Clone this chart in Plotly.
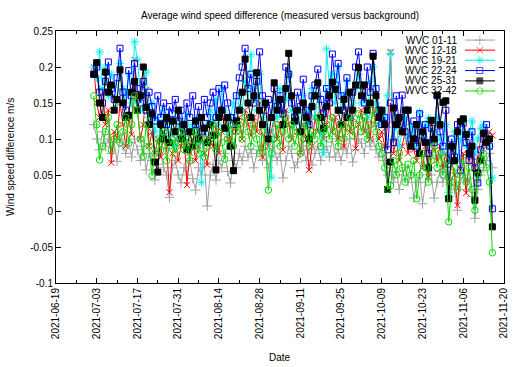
import pandas as pd
import plotly.graph_objects as go

# ---------------- data ----------------
start_date = "2021-07-02"

wvc_01_11 = [
    0.12, 0.1, 0.085, 0.11, 0.09, 0.1, 0.08, 0.095, 0.069, 0.1,
    0.09, 0.08, 0.095, 0.075, 0.1, 0.085, 0.07, 0.09, 0.057, 0.08,
    0.07, 0.043, 0.065, 0.08, 0.06, 0.05, 0.019, 0.06, 0.07, 0.05,
    0.039, 0.06, 0.05, 0.07, 0.045, 0.029, 0.06, 0.05, 0.065, 0.007,
    0.05, 0.065, 0.043, 0.07, 0.06, 0.08, 0.055, 0.039, 0.07, 0.06,
    0.08, 0.07, 0.09, 0.075, 0.085, 0.06, 0.08, 0.09, 0.07, 0.085,
    0.06, 0.075, 0.09, 0.07, 0.08, 0.046, 0.07, 0.09, 0.08, 0.06,
    0.068, 0.08, 0.09, 0.07, 0.085, 0.064, 0.08, 0.09, 0.07, 0.085,
    0.09, 0.075, 0.1, 0.075, 0.085, 0.07, 0.09, 0.08, 0.1, 0.068,
    0.085, 0.1, 0.094, 0.08, 0.11, 0.09, 0.1, 0.085, 0.075, 0.09,
    0.07, 0.05, 0.06, 0.04, 0.055, 0.03, 0.05, 0.06, 0.04, 0.05,
    0.018, 0.04, 0.05, 0.01, 0.04, 0.06, 0.05, 0.018, 0.04, 0.055,
    0.04, 0.05, 0.02, 0.04, 0.03, 0.001, 0.04, 0.05, 0.03, 0.045,
    0.02, -0.01, 0.03, 0.05, 0.06, 0.07, 0.08, 0.06,
]

wvc_12_18 = [
    0.2, 0.15, 0.13, 0.17, 0.12, 0.14, 0.067, 0.11, 0.101, 0.15,
    0.12, 0.09, 0.13, 0.106, 0.21, 0.14, 0.1, 0.12, 0.168, 0.09,
    0.11, 0.08, 0.1, 0.075, 0.11, 0.09, 0.026, 0.08, 0.1, 0.07,
    0.09, 0.11, 0.036, 0.081, 0.1, 0.07, 0.09, 0.11, 0.08, 0.064,
    0.1, 0.09, 0.12, 0.08, 0.11, 0.13, 0.1, 0.09, 0.12, 0.11,
    0.13, 0.1, 0.14, 0.12, 0.105, 0.13, 0.11, 0.15, 0.075, 0.12,
    0.09, 0.11, 0.13, 0.1, 0.12, 0.085, 0.14, 0.12, 0.1, 0.13,
    0.11, 0.081, 0.12, 0.1, 0.057, 0.09, 0.13, 0.11, 0.14, 0.1,
    0.12, 0.15, 0.11, 0.13, 0.1, 0.12, 0.09, 0.14, 0.11, 0.13,
    0.087, 0.12, 0.14, 0.11, 0.13, 0.1, 0.15, 0.12, 0.1, 0.11,
    0.09, 0.12, 0.221, 0.08, 0.1, 0.07, 0.09, 0.11, 0.08, 0.1,
    0.085, 0.07, 0.1, 0.06, 0.09, 0.047, 0.08, 0.095, 0.07, 0.09,
    0.06, 0.08, 0.04, 0.07, 0.05, 0.008, 0.06, 0.08, 0.025, 0.07,
    0.09, 0.06, 0.075, 0.1, 0.115, 0.09, 0.11, 0.105,
]

wvc_19_21 = [
    0.2, 0.185, 0.221, 0.17, 0.2, 0.16, 0.19, 0.175, 0.15, 0.205,
    0.17, 0.16, 0.19, 0.15, 0.235, 0.21, 0.16, 0.14, 0.193, 0.13,
    0.15, 0.11, 0.13, 0.1, 0.14, 0.12, 0.105, 0.13, 0.09, 0.115,
    0.125, 0.1, 0.135, 0.11, 0.12, 0.095, 0.13, 0.04, 0.11, 0.12,
    0.14, 0.125, 0.155, 0.12, 0.171, 0.14, 0.11, 0.13, 0.15, 0.12,
    0.16, 0.14, 0.18, 0.15, 0.217, 0.17, 0.14, 0.19, 0.13, 0.12,
    0.11, 0.047, 0.15, 0.13, 0.17, 0.12, 0.155, 0.19, 0.14, 0.12,
    0.13, 0.11, 0.16, 0.12, 0.14, 0.17, 0.13, 0.16, 0.11, 0.081,
    0.225, 0.17, 0.19, 0.15, 0.2, 0.14, 0.16, 0.18, 0.13, 0.15,
    0.17, 0.19, 0.15, 0.16, 0.13, 0.18, 0.2, 0.15, 0.12, 0.14,
    0.13, 0.16, 0.219, 0.1, 0.12, 0.09, 0.11, 0.13, 0.1, 0.12,
    0.11, 0.09, 0.137, 0.1, 0.12, 0.129, 0.095, 0.11, 0.13, 0.1,
    0.08, 0.12, 0.026, 0.09, 0.11, 0.07, 0.1, 0.125, 0.09, 0.11,
    0.125, 0.08, 0.1, 0.115, 0.12, 0.105, 0.09, 0.046,
]

wvc_22_24 = [
    0.19, 0.2, 0.165, 0.15, 0.18, 0.207, 0.17, 0.155, 0.185, 0.226,
    0.165, 0.14, 0.195, 0.16, 0.205, 0.17, 0.15, 0.18, 0.14, 0.165,
    0.145, 0.125, 0.16, 0.13, 0.15, 0.12, 0.145, 0.135, 0.155, 0.125,
    0.14, 0.115, 0.15, 0.13, 0.16, 0.12, 0.145, 0.11, 0.155, 0.13,
    0.15, 0.165, 0.13, 0.17, 0.14, 0.175, 0.15, 0.13, 0.12, 0.16,
    0.185, 0.2, 0.226, 0.17, 0.19, 0.15, 0.18, 0.221, 0.16, 0.14,
    0.155, 0.13, 0.17, 0.145, 0.16, 0.135, 0.2, 0.19, 0.15, 0.13,
    0.165, 0.145, 0.183, 0.14, 0.12, 0.16, 0.175, 0.197, 0.155, 0.135,
    0.17, 0.15, 0.218, 0.175, 0.205, 0.16, 0.14, 0.185, 0.13, 0.165,
    0.2, 0.221, 0.175, 0.15, 0.2, 0.165, 0.219, 0.17, 0.14, 0.12,
    0.13, 0.085, 0.15, 0.095, 0.16, 0.12, 0.161, 0.11, 0.14, 0.1,
    0.125, 0.09, 0.135, 0.105, 0.12, 0.08, 0.115, 0.095, 0.16, 0.11,
    0.09, 0.14, 0.065, 0.1, 0.075, 0.12, 0.056, 0.122, 0.095, 0.07,
    0.11, 0.06, 0.039, 0.085, 0.1, 0.12, 0.09, 0.003,
]

wvc_25_31 = [
    0.19, 0.206, 0.15, 0.13, 0.193, 0.165, 0.175, 0.14, 0.155, 0.196,
    0.15, 0.13, 0.133, 0.165, 0.18, 0.14, 0.16, 0.2, 0.144, 0.12,
    0.135, 0.068, 0.054, 0.12, 0.1, 0.13, 0.095, 0.125, 0.11, 0.14,
    0.1, 0.12, 0.085, 0.11, 0.09, 0.125, 0.1, 0.13, 0.115, 0.095,
    0.12, 0.105, 0.057, 0.13, 0.14, 0.115, 0.13, 0.09, 0.056, 0.125,
    0.14, 0.165, 0.211, 0.15, 0.13, 0.16, 0.192, 0.14, 0.12, 0.15,
    0.1, 0.13, 0.178, 0.14, 0.155, 0.12, 0.17, 0.219, 0.16, 0.125,
    0.14, 0.11, 0.15, 0.13, 0.1, 0.145, 0.16, 0.178, 0.13, 0.115,
    0.145, 0.16, 0.179, 0.169, 0.14, 0.12, 0.155, 0.13, 0.165, 0.14,
    0.175, 0.199, 0.16, 0.175, 0.14, 0.15, 0.215, 0.16, 0.13, 0.14,
    0.12, 0.03, 0.068, 0.143, 0.12, 0.13, 0.11, 0.14, 0.14, 0.09,
    0.1, 0.12, 0.08, 0.11, 0.095, 0.06, 0.126, 0.1, 0.161, 0.12,
    0.151, 0.153, 0.017, 0.09, 0.07, 0.11, 0.124, 0.128, 0.106, 0.08,
    0.09, 0.015, 0.053, 0.07, 0.108, 0.095, 0.1, -0.022,
]

wvc_32_42 = [
    0.16, 0.12, 0.071, 0.09, 0.11, 0.13, 0.085, 0.1, 0.12, 0.095,
    0.11, 0.13, 0.094, 0.12, 0.16, 0.14, 0.1, 0.076, 0.12, 0.09,
    0.049, 0.08, 0.1, 0.085, 0.11, 0.07, 0.09, 0.1, 0.08, 0.095,
    0.11, 0.085, 0.1, 0.07, 0.09, 0.11, 0.08, 0.1, 0.075, 0.09,
    0.1, 0.12, 0.085, 0.11, 0.095, 0.072, 0.1, 0.12, 0.09, 0.11,
    0.12, 0.1, 0.13, 0.11, 0.09, 0.12, 0.1, 0.08, 0.11, 0.09,
    0.029, 0.08, 0.1, 0.12, 0.09, 0.11, 0.13, 0.1, 0.12, 0.09,
    0.11, 0.08, 0.1, 0.12, 0.09, 0.11, 0.1, 0.13, 0.09, 0.11,
    0.12, 0.1, 0.13, 0.11, 0.09, 0.12, 0.1, 0.115, 0.13, 0.105,
    0.12, 0.135, 0.11, 0.13, 0.1, 0.12, 0.14, 0.11, 0.09, 0.08,
    0.06, 0.03, 0.035, 0.07, 0.05, 0.08, 0.06, 0.04, 0.065, 0.05,
    0.07, 0.017, 0.05, 0.08, 0.06, 0.04, 0.07, 0.09, 0.06, 0.08,
    0.05, 0.07, -0.015, 0.04, 0.06, 0.03, 0.05, 0.07, 0.04, 0.06,
    0.03, 0.001, 0.05, 0.07, 0.08, 0.06, 0.04, -0.058,
]

series_names = ["WVC 01-11", "WVC 12-18", "WVC 19-21", "WVC 22-24", "WVC 25-31", "WVC 32-42"]
series_values = [wvc_01_11, wvc_12_18, wvc_19_21, wvc_22_24, wvc_25_31, wvc_32_42]

y_tick_values = [0.25, 0.2, 0.15, 0.1, 0.05, 0, -0.05, -0.1]
y_tick_labels = ["0.25", "0.2", "0.15", "0.1", "0.05", "0", "-0.05", "-0.1"]

x_range = ["2021-06-19", "2021-11-20"]

title_text = "Average wind speed difference (measured versus background)"
x_title = "Date"
y_title = "Wind speed difference m/s"

# ---------------- styles ----------------
styles = [
    dict(color="#a0a0a0", symbol="cross-thin-open", size=7),
    dict(color="#ff0000", symbol="x-thin-open", size=6),
    dict(color="#00eeee", symbol="asterisk-open", size=7),
    dict(color="#0000ff", symbol="square-open", size=6),
    dict(color="#000000", symbol="square", size=6),
    dict(color="#00dd00", symbol="circle-open", size=6.5),
]

FONT = "Liberation Sans, Arial, Helvetica, sans-serif"

dates = pd.date_range(start_date, periods=len(wvc_01_11), freq="D")

fig = go.Figure()
for name, vals, st in zip(series_names, series_values, styles):
    fig.add_trace(go.Scatter(
        x=dates, y=vals, name=name, mode="lines+markers",
        line=dict(color=st["color"], width=1),
        marker=dict(symbol=st["symbol"], size=st["size"], color=st["color"],
                    line=dict(color=st["color"], width=1)),
        showlegend=False,
    ))

# gnuplot-style key: text right-aligned, sample to its right
key_rows_y = [0.964, 0.924, 0.884, 0.843, 0.802, 0.762]
key_text_x = 0.900
key_line_x = [0.913, 0.946, 0.980]
for name, st, ky in zip(series_names, styles, key_rows_y):
    fig.add_trace(go.Scatter(
        x=key_line_x, y=[ky, ky, ky], mode="lines+markers",
        line=dict(color=st["color"], width=1),
        marker=dict(symbol=st["symbol"], size=[0, st["size"], 0], color=st["color"],
                    line=dict(color=st["color"], width=1)),
        xaxis="x2", yaxis="y2", showlegend=False, hoverinfo="skip",
    ))
    fig.add_annotation(x=key_text_x, y=ky, xref="paper", yref="paper",
                       text=name, showarrow=False, xanchor="right", yanchor="middle",
                       font=dict(size=10, color="black", family=FONT))

fig.add_annotation(x=-0.1027, y=0.5, xref="paper", yref="paper", text=y_title,
                   textangle=-90, showarrow=False, xanchor="center", yanchor="middle",
                   font=dict(size=10, color="black", family=FONT))
fig.add_annotation(x=0.5, y=-0.2976, xref="paper", yref="paper", text=x_title,
                   showarrow=False, xanchor="center", yanchor="middle",
                   font=dict(size=10, color="black", family=FONT))

fig.update_layout(
    width=525, height=367,
    margin=dict(l=56, r=21, t=31, b=84),
    paper_bgcolor="white", plot_bgcolor="white",
    font=dict(family=FONT, size=10, color="black"),
    title=dict(text=title_text, x=0.5, xref="paper", y=1 - 15 / 367, yref="container",
               xanchor="center", yanchor="middle", font=dict(size=10, family=FONT)),
    xaxis=dict(
        type="date", range=x_range,
        tick0="2021-06-19", dtick=14 * 86400000, tickformat="%Y-%m-%d",
        tickangle=-90, ticks="inside", ticklen=5, tickwidth=1, tickcolor="black",
        showline=True, linecolor="black", linewidth=1, mirror="allticks",
        showgrid=False, zeroline=False,
        minor=dict(dtick=7 * 86400000, tick0="2021-06-19", ticks="inside",
                   ticklen=3, tickcolor="black", showgrid=False),
        tickfont=dict(size=10, family=FONT),
    ),
    yaxis=dict(
        range=[-0.1, 0.25], tickvals=y_tick_values, ticktext=y_tick_labels,
        ticks="inside", ticklen=5, tickwidth=1, tickcolor="black",
        showline=True, linecolor="black", linewidth=1, mirror="allticks",
        showgrid=False, zeroline=False,
        tickfont=dict(size=10, family=FONT),
    ),
    xaxis2=dict(overlaying="x", range=[0, 1], visible=False),
    yaxis2=dict(overlaying="y", range=[0, 1], visible=False),
)

fig.write_html("out.html", config={"displayModeBar": False},
               post_script="document.body.style.margin='0px';document.body.style.overflow='hidden';")
